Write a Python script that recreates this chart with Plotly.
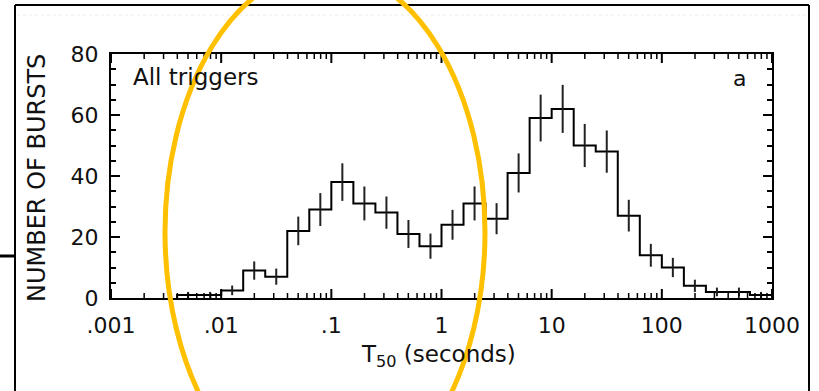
import numpy as np
import plotly.graph_objects as go

# ---- data ----
# log10 of T50 bin edges (seconds), 0.2 dex bins
log_edges = [-2.4, -2.2, -2.0, -1.8, -1.6, -1.4, -1.2, -1.0, -0.8, -0.6, -0.4, -0.2,
             0.0, 0.2, 0.4, 0.6, 0.8, 1.0, 1.2, 1.4, 1.6, 1.8, 2.0, 2.2, 2.4, 2.6, 2.8, 3.0]
counts = [1, 1, 2.5, 9, 7, 22, 29, 38, 31, 28, 21, 17,
          24, 31, 26, 41, 59, 62, 50, 48, 27, 14, 10, 4, 2, 2, 1]
x_tick_vals = [0.001, 0.01, 0.1, 1, 10, 100, 1000]
x_tick_text = [".001", ".01", ".1", "1", "10", "100", "1000"]
y_tick_vals = [0, 20, 40, 60, 80]
x_log_range = [-3, 3]
y_range = [0, 80]

edges = [10 ** e for e in log_edges]
centers = [10 ** ((a + b) / 2) for a, b in zip(log_edges[:-1], log_edges[1:])]
errs = [np.sqrt(c) for c in counts]
minor_x = [k * 10 ** d for d in range(-3, 3) for k in range(2, 10)]

# ---- geometry ----
W, H = 819, 391
L, R, T, B = 111, 772, 54, 298


def px(x):
    return (x - L) / (R - L)


def py(y):
    return (B - y) / (B - T)


def xpaper(v):
    # position of an axis value on the log axis, as a paper fraction
    return (np.log10(v) - x_log_range[0]) / (x_log_range[1] - x_log_range[0])


FONT = "DejaVu Sans"
fig = go.Figure()

# step histogram
fig.add_trace(go.Scatter(
    x=[edges[0]] + edges + [edges[-1]],
    y=[0] + counts + [counts[-1], 0],
    mode="lines", line=dict(shape="hv", color="black", width=2),
    hoverinfo="skip", showlegend=False))

# Poisson error bars
fig.add_trace(go.Scatter(
    x=centers, y=counts, mode="markers",
    marker=dict(size=1, color="black"),
    error_y=dict(type="data", array=errs, visible=True, color="#222",
                 thickness=2, width=0),
    showlegend=False, hoverinfo="skip"))

fig.update_layout(
    xaxis=dict(
        type="log", range=x_log_range,
        tickmode="array", tickvals=x_tick_vals, ticktext=x_tick_text,
        ticks="",
        showline=True, linecolor="black", linewidth=2, mirror=True,
        showgrid=False, zeroline=False,
        tickfont=dict(family=FONT, size=22, color="#111"),
        ticklabelstandoff=7),
    yaxis=dict(
        range=y_range, tickvals=y_tick_vals,
        ticks="inside", ticklen=9, tickwidth=2, tickcolor="black",
        minor=dict(dtick=5, ticks="inside", ticklen=5, tickwidth=1.5,
                   tickcolor="black", showgrid=False),
        showline=True, linecolor="black", linewidth=2, mirror="ticks",
        showgrid=False, zeroline=False,
        tickfont=dict(family=FONT, size=22, color="#111"),
        ticklabelstandoff=6),
)

annotations = [
    dict(text="NUMBER OF BURSTS", x=px(37), y=py(178), textangle=-90,
         font=dict(family=FONT, size=24, color="#111")),
    dict(text="T<sub>50</sub> (seconds)", x=px(438), y=py(356),
         font=dict(family=FONT, size=23, color="#111")),
    dict(text="All triggers", x=px(131), y=py(77), xanchor="left",
         font=dict(family=FONT, size=23, color="#111")),
    dict(text="a", x=px(739), y=py(79),
         font=dict(family=FONT, size=22, color="#111")),
]
for a in annotations:
    a.update(xref="paper", yref="paper", showarrow=False)
    a.setdefault("xanchor", "center")
    a.setdefault("yanchor", "middle")

shapes = []
# x-axis tick marks, bottom and top, pointing inward
for vals, ln, wd in [(x_tick_vals, 9, 2), (minor_x, 5, 1.5)]:
    for v in vals:
        xp = xpaper(v)
        shapes.append(dict(type="line", x0=xp, x1=xp, y0=0, y1=ln / (B - T),
                           line=dict(color="black", width=wd)))
        shapes.append(dict(type="line", x0=xp, x1=xp, y0=1, y1=1 - ln / (B - T),
                           line=dict(color="black", width=wd)))

shapes += [
    # outer frame
    dict(type="line", x0=px(15), x1=px(809), y0=py(5), y1=py(5),
         line=dict(color="black", width=2)),
    dict(type="line", x0=px(15), x1=px(15), y0=py(5), y1=py(400),
         line=dict(color="black", width=2)),
    dict(type="line", x0=px(809), x1=px(809), y0=py(5), y1=py(400),
         line=dict(color="black", width=2)),
    dict(type="line", x0=px(-5), x1=px(15), y0=py(256), y1=py(256),
         line=dict(color="black", width=3)),
    # faint dotted line
    dict(type="line", x0=px(17), x1=px(807), y0=py(15), y1=py(15),
         line=dict(color="#ececec", width=1, dash="dot")),
    # highlight ellipse
    dict(type="circle", x0=px(165), x1=px(485), y0=py(-30), y1=py(494),
         line=dict(color="#FFC000", width=5)),
]
for s in shapes:
    s.update(xref="paper", yref="paper", layer="above")

fig.update_layout(
    width=W, height=H,
    margin=dict(l=L, r=W - R, t=T, b=H - B),
    paper_bgcolor="white", plot_bgcolor="white",
    annotations=annotations, shapes=shapes,
    showlegend=False)

fig.write_html("out.html")
